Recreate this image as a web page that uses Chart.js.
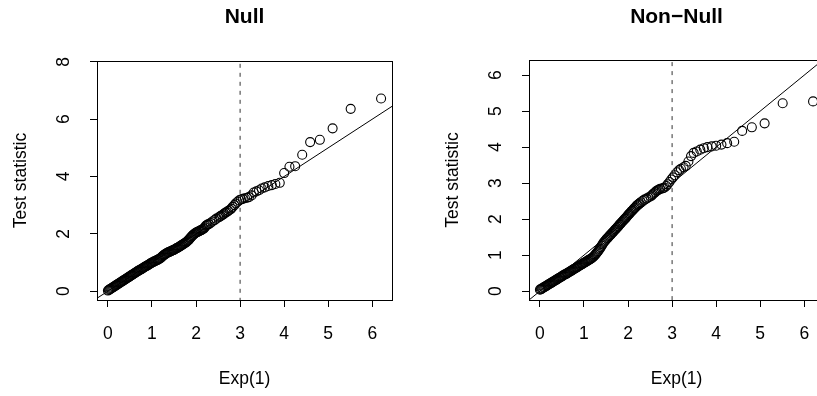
<!DOCTYPE html>
<html>
<head>
<meta charset="utf-8">
<script src="https://cdn.jsdelivr.net/npm/chart.js@4.4.1/dist/chart.umd.min.js"></script>
<style>
  html, body { margin: 0; padding: 0; background: #fff; }
  #wrap { position: relative; width: 817px; height: 396px; overflow: hidden; }
  canvas { position: absolute; top: 0; }
  #nullChart { left: 0; }
  #nonNullChart { left: 408px; }
</style>
</head>
<body>
<div id="wrap">
  <canvas id="nullChart" width="408" height="396"></canvas>
  <canvas id="nonNullChart" width="430" height="396"></canvas>
</div>
<script>
// --- Data ---
// expected Exp(1) quantiles, shared by both panels
const expQuantiles = [
  0.00, 0.02, 0.04, 0.06, 0.08, 0.10, 0.12, 0.14, 0.16, 0.18,
  0.20, 0.22, 0.24, 0.26, 0.28, 0.30, 0.32, 0.34, 0.36, 0.38,
  0.40, 0.42, 0.44, 0.46, 0.48, 0.50, 0.52, 0.54, 0.56, 0.58,
  0.60, 0.62, 0.64, 0.66, 0.68, 0.70, 0.72, 0.74, 0.76, 0.78,
  0.80, 0.82, 0.84, 0.86, 0.88, 0.90, 0.92, 0.94, 0.96, 0.98,
  1.00, 1.02, 1.04, 1.06, 1.08, 1.10, 1.12, 1.14, 1.16, 1.18,
  1.20, 1.22, 1.24, 1.26, 1.28, 1.30, 1.32, 1.34, 1.36, 1.38,
  1.40, 1.42, 1.44, 1.46, 1.48, 1.50, 1.52, 1.54, 1.56, 1.58,
  1.60, 1.62, 1.64, 1.66, 1.68, 1.70, 1.72, 1.74, 1.76, 1.78,
  1.80, 1.82, 1.84, 1.86, 1.88, 1.90, 1.92, 1.94, 1.96, 1.98,
  2.00, 2.02, 2.04, 2.06, 2.08, 2.10, 2.12, 2.14, 2.16, 2.18,
  2.20, 2.22, 2.24, 2.26,
  2.29, 2.33, 2.37, 2.42, 2.46, 2.51, 2.54, 2.56, 2.59, 2.62,
  2.64, 2.67, 2.70, 2.73, 2.77, 2.80, 2.83, 2.87, 2.90, 2.94,
  2.98, 3.02, 3.06, 3.11, 3.16, 3.20, 3.26, 3.31, 3.37, 3.43,
  3.49, 3.56, 3.64, 3.72, 3.80, 3.90, 4.00, 4.12, 4.25, 4.41,
  4.59, 4.81, 5.10, 5.51, 6.20
];

const nullStat = [
  0.02, 0.04, 0.06, 0.08, 0.10, 0.12, 0.14, 0.16, 0.18, 0.20,
  0.22, 0.24, 0.26, 0.28, 0.30, 0.32, 0.34, 0.36, 0.38, 0.40,
  0.42, 0.44, 0.46, 0.48, 0.50, 0.52, 0.54, 0.56, 0.58, 0.60,
  0.62, 0.64, 0.66, 0.68, 0.70, 0.72, 0.74, 0.75, 0.77, 0.79,
  0.81, 0.83, 0.85, 0.87, 0.88, 0.90, 0.92, 0.94, 0.96, 0.98,
  1.00, 1.01, 1.03, 1.04, 1.06, 1.07, 1.09, 1.10, 1.12, 1.14,
  1.16, 1.19, 1.22, 1.25, 1.27, 1.29, 1.31, 1.33, 1.35, 1.36,
  1.37, 1.39, 1.40, 1.42, 1.43, 1.44, 1.46, 1.48, 1.50, 1.51,
  1.53, 1.55, 1.57, 1.59, 1.61, 1.63, 1.65, 1.67, 1.69, 1.71,
  1.74, 1.77, 1.80, 1.84, 1.87, 1.91, 1.94, 1.97, 2.00, 2.02,
  2.04, 2.06, 2.07, 2.09, 2.10, 2.12, 2.13, 2.15, 2.17, 2.19,
  2.23, 2.28, 2.30, 2.32,
  2.34, 2.38, 2.43, 2.48, 2.53, 2.57, 2.60, 2.62, 2.65, 2.68,
  2.71, 2.74, 2.76, 2.80, 2.84, 2.88, 2.94, 3.00, 3.06, 3.12,
  3.17, 3.20, 3.22, 3.24, 3.26, 3.28, 3.34, 3.44, 3.48, 3.52,
  3.58, 3.62, 3.67, 3.70, 3.74, 3.78, 4.12, 4.34, 4.36, 4.76,
  5.20, 5.28, 5.68, 6.36, 6.72
];

const nonNullStat = [
  0.04, 0.05, 0.07, 0.08, 0.10, 0.11, 0.13, 0.14, 0.16, 0.17,
  0.19, 0.20, 0.22, 0.23, 0.25, 0.26, 0.28, 0.29, 0.31, 0.32,
  0.34, 0.35, 0.37, 0.38, 0.40, 0.41, 0.43, 0.44, 0.46, 0.47,
  0.48, 0.50, 0.51, 0.53, 0.54, 0.56, 0.57, 0.59, 0.60, 0.62,
  0.63, 0.65, 0.66, 0.68, 0.69, 0.71, 0.72, 0.74, 0.75, 0.77,
  0.78, 0.80, 0.81, 0.83, 0.84, 0.86, 0.87, 0.89, 0.90, 0.92,
  0.94, 0.96, 0.99, 1.02, 1.05, 1.08, 1.11, 1.15, 1.18, 1.22,
  1.26, 1.30, 1.34, 1.37, 1.40, 1.43, 1.46, 1.48, 1.51, 1.54,
  1.56, 1.59, 1.62, 1.64, 1.67, 1.70, 1.72, 1.75, 1.78, 1.80,
  1.84, 1.86, 1.89, 1.92, 1.94, 1.97, 2.00, 2.02, 2.05, 2.08,
  2.11, 2.14, 2.16, 2.19, 2.22, 2.24, 2.27, 2.30, 2.32, 2.35,
  2.38, 2.40, 2.42, 2.44,
  2.47, 2.51, 2.54, 2.57, 2.60, 2.63, 2.66, 2.69, 2.72, 2.75,
  2.78, 2.80, 2.82, 2.84, 2.85, 2.86, 2.88, 2.92, 2.97, 3.03,
  3.10, 3.16, 3.22, 3.30, 3.36, 3.40, 3.44, 3.48, 3.60, 3.75,
  3.84, 3.88, 3.93, 3.97, 4.00, 4.02, 4.04, 4.07, 4.11, 4.15,
  4.45, 4.55, 4.66, 5.22, 5.27
];

const xTicks = [0, 1, 2, 3, 4, 5, 6];
const nullYTicks = [0, 2, 4, 6, 8];
const nonNullYTicks = [0, 1, 2, 3, 4, 5, 6];
const cutoff = 3;          // dashed vertical line
const refLine = [-1, 9];   // y = x reference, clipped to the box

const FONT = '"Liberation Sans", Arial, Helvetica, sans-serif';

// --- R-style box, rotated y labels and titles ---
const panelDecor = {
  id: 'panelDecor',
  afterDraw(chart, args, opts) {
    const { ctx, chartArea: a, scales } = chart;
    ctx.save();
    ctx.strokeStyle = '#000';
    ctx.lineWidth = 1;
    ctx.strokeRect(Math.round(a.left) + 0.5, Math.round(a.top) + 0.5,
      Math.round(a.right - a.left), Math.round(a.bottom - a.top));

    ctx.fillStyle = '#000';
    ctx.font = `17.5px ${FONT}`;
    ctx.textAlign = 'center';
    ctx.textBaseline = 'middle';
    opts.yTicks.forEach(v => {
      ctx.save();
      ctx.translate(a.left - 33, scales.y.getPixelForValue(v));
      ctx.rotate(-Math.PI / 2);
      ctx.fillText(String(v), 0, 0);
      ctx.restore();
    });

    ctx.save();
    ctx.translate(a.left - 76, (a.top + a.bottom) / 2);
    ctx.rotate(-Math.PI / 2);
    ctx.fillText('Test statistic', 0, 0);
    ctx.restore();

    const cx = (a.left + a.right) / 2;
    ctx.textBaseline = 'alphabetic';
    ctx.fillText('Exp(1)', cx, 384);
    ctx.font = `bold 21px ${FONT}`;
    ctx.fillText(opts.title, cx, 22.7);
    ctx.restore();
  }
};

function makePanel(canvasId, title, stat, yMin, yMax, yTicks, pad) {
  const points = expQuantiles.map((x, i) => ({ x: x, y: stat[i] }));
  return new Chart(document.getElementById(canvasId), {
    type: 'scatter',
    data: {
      datasets: [
        {
          data: points,
          pointStyle: 'circle',
          pointRadius: 4.5,
          pointBorderWidth: 1.1,
          pointBorderColor: '#000',
          pointBackgroundColor: 'rgba(0,0,0,0)',
          order: 2,
          clip: 0
        },
        {
          data: refLine.map(v => ({ x: v, y: v })),
          showLine: true,
          borderColor: '#000',
          borderWidth: 1,
          pointRadius: 0,
          order: 1,
          clip: 0
        },
        {
          data: refLine.map(v => ({ x: cutoff, y: v })),
          showLine: true,
          borderColor: '#333',
          borderWidth: 1,
          borderDash: [4, 5],
          pointRadius: 0,
          order: 1,
          clip: 0
        }
      ]
    },
    options: {
      responsive: false,
      animation: false,
      devicePixelRatio: 1,
      layout: { padding: pad },
      plugins: {
        legend: { display: false },
        tooltip: { enabled: false },
        panelDecor: { title: title, yTicks: yTicks }
      },
      scales: {
        x: {
          type: 'linear',
          min: -0.248,
          max: 6.448,
          afterBuildTicks: s => { s.ticks = xTicks.map(v => ({ value: v })); },
          afterFit: s => { s.height = 40; },
          border: { display: false },
          grid: { drawOnChartArea: false, drawTicks: true, tickLength: 7, color: '#000', lineWidth: 1 },
          ticks: { color: '#000', font: { family: FONT, size: 17.5 }, padding: 17, maxRotation: 0, autoSkip: false }
        },
        y: {
          type: 'linear',
          min: yMin,
          max: yMax,
          afterBuildTicks: s => { s.ticks = yTicks.map(v => ({ value: v })); },
          afterFit: s => { s.width = 40; },
          border: { display: false },
          grid: { drawOnChartArea: false, drawTicks: true, tickLength: 7, color: '#000', lineWidth: 1 },
          ticks: { display: false }
        }
      }
    },
    plugins: [panelDecor]
  });
}

makePanel('nullChart', 'Null', nullStat, -0.309, 8.03, nullYTicks,
  { left: 57, right: 16, top: 61, bottom: 56 });
makePanel('nonNullChart', 'Non\u2212Null', nonNullStat, -0.247, 6.42, nonNullYTicks,
  { left: 81, right: 14, top: 60, bottom: 56 });
</script>
</body>
</html>
